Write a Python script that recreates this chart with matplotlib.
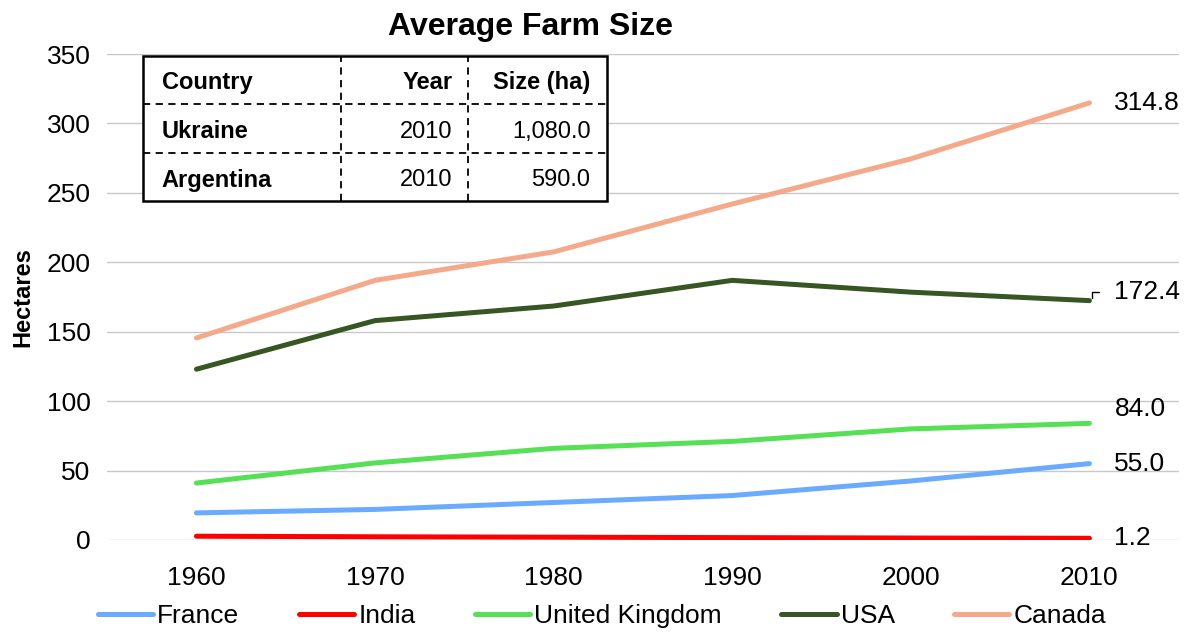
import matplotlib

matplotlib.use("Agg")
import matplotlib.pyplot as plt

plt.rcParams["font.family"] = ["Liberation Sans", "DejaVu Sans"]

years = ["1960", "1970", "1980", "1990", "2000", "2010"]
france = [19.5, 22.0, 27.0, 32.0, 42.5, 55.0]
india = [2.7, 2.3, 2.0, 1.7, 1.4, 1.2]
uk = [41.0, 55.5, 66.0, 71.0, 80.0, 84.0]
usa = [123.0, 158.0, 168.5, 187.0, 178.5, 172.4]
canada = [145.5, 187.0, 207.5, 242.0, 274.5, 314.8]

series = [
    ("France", france, "#6aaaff"),
    ("India", india, "#ff0000"),
    ("United Kingdom", uk, "#55e055"),
    ("USA", usa, "#375623"),
    ("Canada", canada, "#f4a98a"),
]

table_header = ["Country", "Year", "Size (ha)"]
table_rows = [["Ukraine", "2010", "1,080.0"], ["Argentina", "2010", "590.0"]]

fig = plt.figure(figsize=(12.04, 6.36), dpi=100)
ax = fig.add_axes([0.089, 0.151, 0.890, 0.764])

x = list(range(len(years)))
for name, vals, color in series:
    ax.plot(x, vals, color=color, lw=3.6, solid_capstyle="round", label=name, zorder=3)

ax.set_xlim(-0.5, len(years) - 0.5)
ax.set_ylim(0, 350)
ax.set_yticks(range(0, 351, 50))
ax.set_xticks(x)
ax.set_xticklabels(years)
ax.tick_params(axis="both", length=0, labelsize=19)
ax.tick_params(axis="y", pad=12)
ax.tick_params(axis="x", pad=19)
ax.grid(axis="y", color="#c8c8c8", lw=1)
ax.set_axisbelow(True)
for s in ax.spines.values():
    s.set_visible(False)
ax.set_ylabel("Hectares", fontsize=17, fontweight="bold", labelpad=9)
ax.set_title("Average Farm Size", fontsize=23, fontweight="bold", pad=14, x=0.395)

# end-of-line value labels
offsets = {"France": 0, "India": 0, "United Kingdom": 10, "USA": 6, "Canada": 0}
for name, vals, color in series:
    ax.annotate(f"{vals[-1]:.1f}", xy=(x[-1], vals[-1] + offsets[name]),
                xytext=(18, 0), textcoords="offset points",
                ha="left", va="center", fontsize=19)
# small leader for the USA label
ax.annotate("", xy=(x[-1] + 0.015, usa[-1]), xytext=(x[-1] + 0.07, usa[-1] + 6),
            arrowprops=dict(arrowstyle="-", connectionstyle="angle,angleA=0,angleB=90,rad=0",
                            color="black", lw=1.0))

# inset table drawn in axes fraction coords
col_edges = [0.033, 0.218, 0.337, 0.466]
row_edges = [0.996, 0.897, 0.796, 0.697]
tkw = dict(transform=ax.transAxes, color="black", zorder=5)
ax.add_patch(plt.Rectangle((col_edges[0], row_edges[-1]), col_edges[-1] - col_edges[0],
                           row_edges[0] - row_edges[-1], facecolor="white",
                           edgecolor="black", lw=1.8, transform=ax.transAxes, zorder=4))
for cx in col_edges[1:-1]:
    ax.plot([cx, cx], [row_edges[-1], row_edges[0]], ls=(0, (4, 3)), lw=1.3, **tkw)
for ry in row_edges[1:-1]:
    ax.plot([col_edges[0], col_edges[-1]], [ry, ry], ls=(0, (4, 3)), lw=1.3, **tkw)

rows = [table_header] + table_rows
for i, row in enumerate(rows):
    yc = (row_edges[i] + row_edges[i + 1]) / 2 - 0.006
    for j, cell in enumerate(row):
        bold = i == 0 or j == 0
        if j == 0:
            xp, ha = col_edges[0] + 0.018, "left"
        else:
            xp, ha = col_edges[j + 1] - 0.015, "right"
        ax.text(xp, yc, cell, ha=ha, va="center", fontsize=17,
                fontweight="bold" if bold else "normal", transform=ax.transAxes, zorder=6)

leg = fig.legend(loc="lower center", bbox_to_anchor=(0.5, -0.025), ncol=5, frameon=False,
                 fontsize=19, handlelength=2.1, handletextpad=0.15, columnspacing=2.25)
for h in leg.get_lines():
    h.set_linewidth(3.6)

fig.savefig("out.png", dpi=100)
